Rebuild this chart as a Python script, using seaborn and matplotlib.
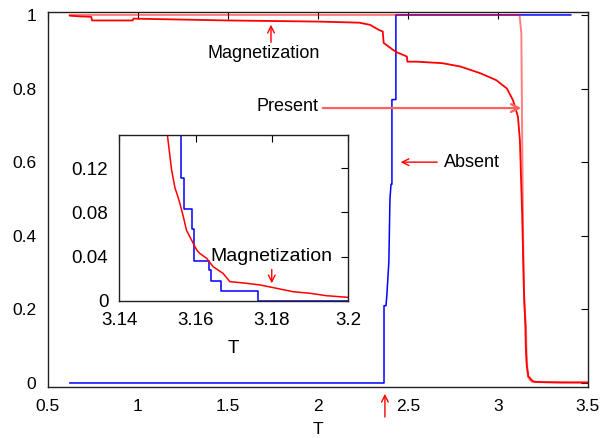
import numpy as np
import pandas as pd
import matplotlib
matplotlib.use("Agg")
import matplotlib.pyplot as plt
import seaborn as sns

# ---------------- data ----------------
# Main panel: magnetization (red)
mag_T = [0.62, 0.68, 0.74, 0.745, 0.97, 0.975, 1.5, 2.0, 2.23, 2.29, 2.34, 2.36,
         2.365, 2.39, 2.417, 2.44, 2.47, 2.494, 2.497, 2.55, 2.69, 2.79, 2.9,
         2.99, 3.05, 3.083, 3.111, 3.122, 3.135, 3.1445, 3.1526, 3.1546, 3.1568,
         3.1585, 3.1603, 3.1629, 3.1672, 3.169, 3.1769, 3.1856, 3.2, 3.25, 3.35, 3.5]
mag_M = [0.998, 0.996, 0.995, 0.985, 0.985, 0.99, 0.985, 0.982, 0.979, 0.973, 0.959, 0.955,
         0.924, 0.915, 0.905, 0.898, 0.892, 0.887, 0.873, 0.873, 0.869, 0.86, 0.842,
         0.823, 0.80, 0.769, 0.724, 0.66, 0.45, 0.25, 0.15, 0.102, 0.076,
         0.058, 0.046, 0.0386, 0.025, 0.0175, 0.0145, 0.0084, 0.0033, 0.002, 0.001, 0.001]

# Main panel: "Present" curve (light red)
pres_T = [0.62, 3.12, 3.13, 3.136, 3.141, 3.146, 3.1563, 3.1572, 3.1592, 3.1636,
          3.1666, 3.1764, 3.19, 3.5]
pres_V = [1.0, 1.0, 0.95, 0.6, 0.35, 0.22, 0.15, 0.111, 0.083, 0.0365,
          0.018, 0.009, 0.003, 0.002]

# Main panel: "Absent" curve (blue)
abs_T = [0.62, 2.367, 2.367, 2.378, 2.383, 2.394, 2.40, 2.406, 2.411, 2.411,
         2.433, 2.433, 3.406]
abs_V = [0.0, 0.0, 0.21, 0.21, 0.24, 0.33, 0.50, 0.54, 0.54, 0.77,
         0.77, 1.0, 1.0]

# Inset: magnetization (red)
in_mag_T = [3.1526, 3.1537, 3.1546, 3.1552, 3.1559, 3.1568, 3.1576, 3.1585, 3.1594,
            3.1603, 3.1611, 3.1629, 3.1646, 3.1672, 3.169, 3.1734, 3.1769, 3.1812,
            3.1856, 3.19, 3.1943, 3.2]
in_mag_M = [0.150, 0.1186, 0.102, 0.096, 0.088, 0.076, 0.064, 0.058, 0.052,
            0.046, 0.043, 0.0386, 0.031, 0.025, 0.0175, 0.016, 0.0145, 0.0115,
            0.0084, 0.007, 0.0048, 0.0033]

# Inset: step curve (blue)
in_stp_T = [3.1561, 3.1561, 3.1570, 3.1570, 3.1591, 3.1591, 3.1597, 3.1597,
            3.1636, 3.1636, 3.1640, 3.1640, 3.1666, 3.1666, 3.1764, 3.1764, 3.2]
in_stp_V = [0.15, 0.111, 0.111, 0.083, 0.083, 0.0649, 0.0649, 0.0365,
            0.0365, 0.028, 0.028, 0.0181, 0.0181, 0.00905, 0.00905, 0.0, 0.0]

main_xticks = [0.5, 1, 1.5, 2, 2.5, 3, 3.5]
main_xlabels = ["0.5", "1", "1.5", "2", "2.5", "3", "3.5"]
main_yticks = [0, 0.2, 0.4, 0.6, 0.8, 1]
main_ylabels = ["0", "0.2", "0.4", "0.6", "0.8", "1"]
in_xticks = [3.14, 3.16, 3.18, 3.2]
in_xlabels = ["3.14", "3.16", "3.18", "3.2"]
in_yticks = [0, 0.04, 0.08, 0.12]
in_ylabels = ["0", "0.04", "0.08", "0.12"]

# ---------------- style ----------------
sns.set_style("white")
plt.rcParams["font.family"] = ["Liberation Sans", "DejaVu Sans"]
plt.rcParams["font.size"] = 13
plt.rcParams["text.color"] = "black"
plt.rcParams["axes.labelcolor"] = "black"

RED = "#ff0000"
BLUE = "#0000ff"
LRED = "#ff0000"

fig = plt.figure(figsize=(6.03, 4.38), dpi=100)
ax = fig.add_axes([0.0796, 0.1164, 0.975 - 0.0796, 0.9726 - 0.1164])

df_abs = pd.DataFrame({"T": abs_T, "v": abs_V})
df_mag = pd.DataFrame({"T": mag_T, "v": mag_M})
df_pres = pd.DataFrame({"T": pres_T, "v": pres_V})

sns.lineplot(data=df_abs, x="T", y="v", ax=ax, color=BLUE, lw=1.1,
             estimator=None, sort=False)
sns.lineplot(data=df_mag, x="T", y="v", ax=ax, color=RED, lw=1.3,
             estimator=None, sort=False)
sns.lineplot(data=df_pres, x="T", y="v", ax=ax, color=LRED, lw=1.4, alpha=0.5,
             estimator=None, sort=False)

ax.set_xlim(0.5, 3.5)
ax.set_ylim(-0.011, 1.008)
ax.set_xticks(main_xticks)
ax.set_xticklabels(main_xlabels)
ax.set_yticks(main_yticks)
ax.set_yticklabels(main_ylabels)
ax.set_xlabel("T", fontsize=12.5, labelpad=6)
ax.set_ylabel("")
ax.tick_params(direction="in", length=5, width=0.8, top=True, right=True,
               labelsize=12.5, colors="black")
ax.tick_params(axis="x", pad=8.5)
ax.tick_params(axis="y", pad=8.5)
for s in ax.spines.values():
    s.set_color("#202020")
    s.set_linewidth(1.0)

arrow_kw = dict(arrowstyle="->", color=RED, lw=1.0, mutation_scale=12)
light_arrow = dict(arrowstyle="->", color="#ff6060", lw=1.6, mutation_scale=14)

ax.annotate("", xy=(1.739, 0.981), xytext=(1.739, 0.918), arrowprops=arrow_kw)
ax.text(1.70, 0.895, "Magnetization", ha="center", va="center", fontsize=13)

ax.annotate("", xy=(3.145, 0.747), xytext=(2.011, 0.747), arrowprops=light_arrow)
ax.text(1.828, 0.750, "Present", ha="center", va="center", fontsize=13)

ax.annotate("", xy=(2.444, 0.60), xytext=(2.678, 0.60), arrowprops=arrow_kw)
ax.text(2.856, 0.60, "Absent", ha="center", va="center", fontsize=13)

ax.annotate("", xy=(2.372, -0.022), xytext=(2.372, -0.10), arrowprops=arrow_kw,
            annotation_clip=False)

# ---------------- inset ----------------
ins = fig.add_axes([0.198, 0.3128, 0.379, 0.379])
df_in_stp = pd.DataFrame({"T": in_stp_T, "v": in_stp_V})
df_in_mag = pd.DataFrame({"T": in_mag_T, "v": in_mag_M})
sns.lineplot(data=df_in_stp, x="T", y="v", ax=ins, color=BLUE, lw=1.1,
             estimator=None, sort=False)
sns.lineplot(data=df_in_mag, x="T", y="v", ax=ins, color=RED, lw=1.1,
             estimator=None, sort=False)
ins.set_xlim(3.14, 3.2)
ins.set_ylim(0, 0.15)
ins.set_xticks(in_xticks)
ins.set_xticklabels(in_xlabels)
ins.set_yticks(in_yticks)
ins.set_yticklabels(in_ylabels)
ins.set_xlabel("T", fontsize=13.5, labelpad=8)
ins.set_ylabel("")
ins.tick_params(direction="in", length=5, width=0.8, top=True, right=True,
                labelsize=13.5, colors="black", pad=8)
for s in ins.spines.values():
    s.set_color("#202020")
    s.set_linewidth(1.0)
ins.annotate("", xy=(3.18, 0.0135), xytext=(3.18, 0.031), arrowprops=arrow_kw)
ins.text(3.18, 0.040, "Magnetization", ha="center", va="center", fontsize=14)

fig.savefig("out.png", dpi=100)
